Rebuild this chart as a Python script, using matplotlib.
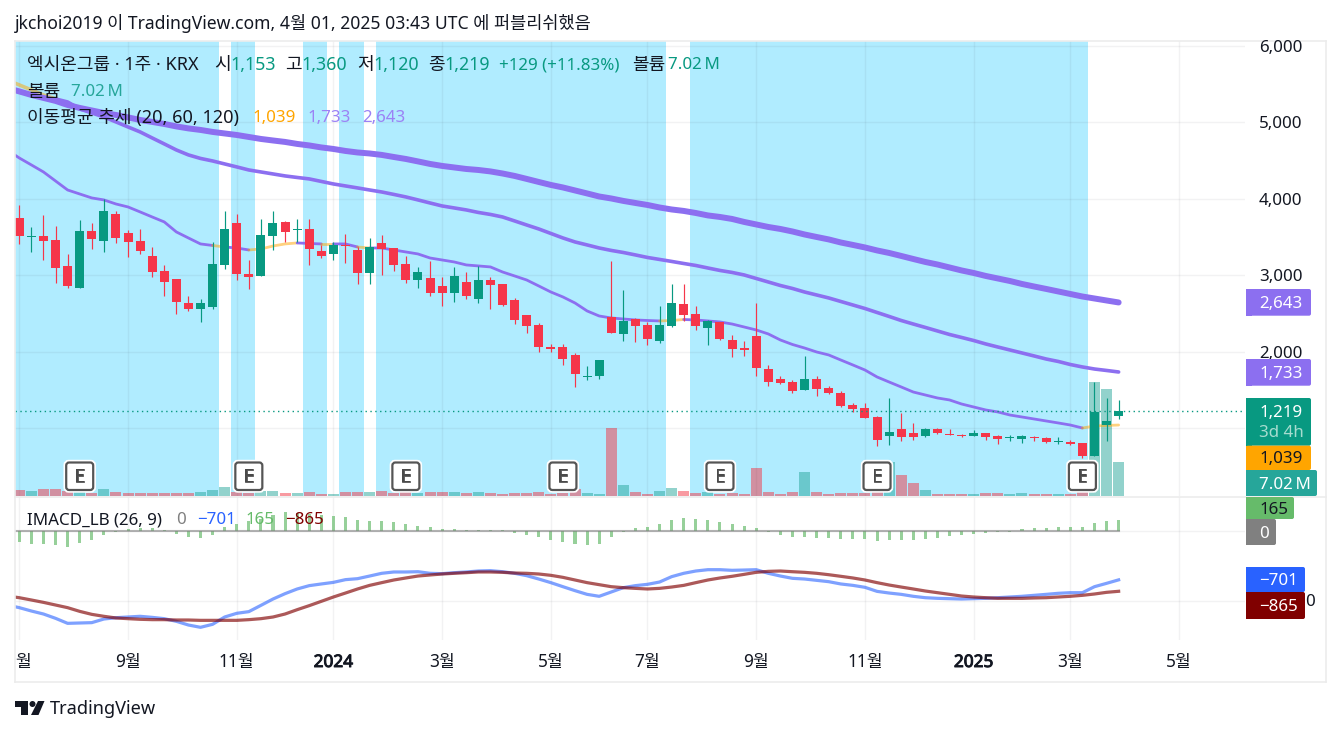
import numpy as np
import matplotlib
matplotlib.use("Agg")
import matplotlib.pyplot as plt
import matplotlib.patheffects as pe
from matplotlib.patches import FancyBboxPatch, Rectangle, Polygon, Circle

plt.rcParams["font.family"] = ["Noto Sans", "Noto Sans CJK KR"]

# weekly candles
opens = [3749, 3500, 3513, 3461, 3120, 2832, 3578, 3447, 3801, 3552, 3447, 3251, 3055, 2950, 2636, 2557, 2584, 3133, 3683, 3016,
         2989, 3513, 3696, 3591, 3605, 3317, 3277, 3395, 3330, 3029, 3421, 3356, 3146, 2937, 2964, 2859, 2767, 2911, 2689, 2937,
         2885, 2676, 2479, 2348, 2060, 2060, 1956, 1668, 1681, 2453, 2231, 2427, 2348, 2139, 2335, 2623, 2492, 2309, 2388, 2152,
         2047, 2204, 1773, 1642, 1602, 1498, 1642, 1524, 1458, 1301, 1262, 1144, 895, 987, 935, 895, 987, 917, 909, 895,
         935, 895, 869, 856, 882, 869, 817, 817, 804, 634, 1039, 1153]
highs = [3919, 3631, 3788, 3644, 3277, 3722, 3683, 3997, 3840, 3591, 3605, 3369, 3133, 2950, 2728, 2688, 3434, 3840, 3801, 3199,
         3735, 3840, 3709, 3735, 3735, 3395, 3434, 3539, 3369, 3487, 3526, 3356, 3251, 3107, 3186, 2977, 3108, 3042, 3121, 2977,
         2885, 2702, 2479, 2375, 2100, 2100, 1982, 1812, 1890, 3186, 2807, 2440, 2388, 2597, 2885, 2885, 2597, 2414, 2388, 2218,
         2139, 2636, 1825, 1681, 1628, 1943, 1681, 1550, 1484, 1327, 1327, 1157, 1393, 1197, 1066, 1000, 1000, 987, 922, 974,
         935, 909, 909, 909, 895, 882, 882, 843, 804, 1602, 1393, 1360]
lows = [3408, 3303, 3199, 2898, 2832, 2832, 3343, 3303, 3421, 3238, 3277, 2976, 2728, 2492, 2531, 2387, 2557, 3081, 2937, 2819,
        2989, 3330, 3434, 3434, 3133, 3225, 3199, 3160, 2885, 2885, 3002, 3055, 2898, 2832, 2728, 2597, 2649, 2689, 2636, 2558,
        2597, 2362, 2244, 1995, 1995, 1825, 1537, 1629, 1642, 2244, 2139, 2126, 2087, 2113, 2322, 2401, 2283, 2087, 2152, 1930,
        1943, 1681, 1550, 1576, 1458, 1498, 1419, 1445, 1275, 1210, 1131, 765, 778, 830, 843, 882, 922, 909, 882, 895,
        843, 791, 830, 804, 830, 804, 791, 778, 608, 634, 830, 1120]
closes = [3513, 3513, 3447, 3094, 2858, 3578, 3474, 3840, 3487, 3434, 3317, 3042, 2911, 2649, 2557, 2636, 3146, 3605, 3016, 2976,
          3526, 3683, 3565, 3605, 3343, 3251, 3395, 3382, 3029, 3369, 3343, 3133, 2937, 3042, 2767, 2767, 2990, 2728, 2937, 2872,
          2610, 2414, 2335, 2060, 2034, 1903, 1707, 1681, 1890, 2244, 2401, 2335, 2165, 2348, 2636, 2479, 2335, 2401, 2165, 2034,
          2021, 1786, 1602, 1589, 1484, 1642, 1511, 1458, 1288, 1249, 1131, 843, 948, 882, 882, 987, 935, 909, 895, 935,
          882, 856, 878, 895, 869, 817, 830, 791, 634, 1210, 1092, 1219]
# volume in millions
volumes = [1.24, 1.03, 1.45, 1.45, 1.03, 0.76, 0.68, 1.45, 0.83, 0.62, 0.62, 0.62, 0.62, 0.62, 0.62, 0.83, 1.24, 1.86, 0.83, 0.62,
           1.03, 1.03, 0.62, 0.62, 0.83, 0.35, 0.35, 0.83, 0.83, 0.83, 1.03, 0.62, 0.76, 0.62, 0.83, 0.83, 0.83, 0.62, 0.83, 0.62,
           0.41, 0.62, 0.62, 0.83, 0.41, 0.62, 1.45, 0.62, 0.41, 14.04, 2.27, 0.83, 0.41, 1.03, 1.65, 1.03, 0.62, 0.83, 0.41, 0.62,
           0.41, 5.78, 0.83, 0.41, 0.83, 4.96, 0.83, 0.41, 0.62, 0.62, 0.62, 0.83, 7.02, 4.34, 2.68, 1.24, 0.41, 0.41, 0.41, 0.41,
           0.62, 0.62, 0.41, 0.62, 0.41, 0.41, 0.41, 0.41, 0.83, 23.5, 22.1, 7.02]

# moving averages start one week before the first whole candle
ma20 = [4639, 4534, 4443, 4351, 4233, 4115, 4063, 4011, 3985, 3932, 3893, 3828, 3762, 3697, 3566, 3487, 3409, 3389, 3369, 3356,
        3330, 3343, 3382, 3409, 3422, 3415, 3409, 3409, 3409, 3369, 3356, 3356, 3330, 3304, 3278, 3225, 3199, 3173, 3134, 3121,
        3108, 3042, 2990, 2937, 2859, 2780, 2715, 2636, 2532, 2466, 2440, 2427, 2414, 2407, 2401, 2407, 2420, 2414, 2401, 2388,
        2361, 2322, 2283, 2231, 2152, 2093, 2047, 1995, 1956, 1890, 1825, 1759, 1668, 1602, 1537, 1471, 1432, 1393, 1367, 1314,
        1275, 1236, 1210, 1170, 1144, 1118, 1092, 1066, 1039, 1000, 1026, 1033, 1039]
ma60 = [5555, 5490, 5425, 5359, 5307, 5267, 5176, 5123, 5071, 5006, 4940, 4875, 4796, 4718, 4639, 4574, 4528, 4495, 4456, 4417,
        4377, 4351, 4325, 4299, 4279, 4260, 4227, 4194, 4168, 4142, 4115, 4089, 4057, 4024, 3985, 3945, 3906, 3880, 3854, 3821,
        3795, 3762, 3710, 3657, 3605, 3546, 3487, 3435, 3396, 3356, 3324, 3297, 3265, 3232, 3206, 3180, 3153, 3127, 3094, 3062,
        3036, 3003, 2957, 2911, 2865, 2826, 2780, 2741, 2702, 2656, 2610, 2564, 2512, 2460, 2407, 2361, 2316, 2270, 2224, 2185,
        2145, 2100, 2060, 2021, 1982, 1943, 1903, 1871, 1831, 1799, 1772, 1753, 1733]
ma120 = [5450, 5405, 5359, 5320, 5281, 5228, 5189, 5156, 5123, 5097, 5065, 5032, 5006, 4979, 4947, 4921, 4901, 4875, 4855, 4835,
         4809, 4783, 4763, 4744, 4718, 4698, 4672, 4652, 4626, 4606, 4593, 4574, 4547, 4521, 4489, 4456, 4430, 4410, 4390, 4377,
         4358, 4331, 4299, 4260, 4220, 4181, 4148, 4109, 4070, 4030, 4004, 3972, 3945, 3919, 3886, 3860, 3841, 3814, 3782, 3762,
         3736, 3697, 3664, 3631, 3605, 3572, 3533, 3500, 3468, 3428, 3396, 3363, 3324, 3291, 3252, 3212, 3173, 3140, 3101, 3062,
         3029, 2990, 2957, 2924, 2885, 2852, 2820, 2787, 2754, 2721, 2695, 2669, 2643]

# IMACD_LB pane
hist = [-155, -183, -183, -197, -226, -169, -127, -56, -14, 28, 42, 42, 14, -42, -85, -99, -56, 56, 99, 141,
        169, 226, 268, 254, 240, 226, 212, 197, 155, 141, 141, 127, 99, 70, 56, 28, 28, 14, 14, 14,
        14, -28, -56, -85, -127, -155, -183, -197, -183, -85, -14, 42, 56, 99, 155, 183, 169, 155, 127, 99,
        70, 42, -14, -56, -85, -85, -99, -99, -113, -113, -113, -141, -127, -127, -127, -113, -99, -70, -56, -42,
        -28, -14, -14, 28, 42, 42, 56, 56, 56, 113, 141, 165]
macd_line = [-1062, -1100, -1148, -1191, -1253, -1325, -1320, -1315, -1263, -1244, -1234, -1224, -1239, -1258, -1296, -1349, -1382, -1339, -1234, -1181,
             -1157, -1067, -976, -899, -832, -784, -760, -737, -698, -684, -646, -607, -588, -588, -584, -607, -612, -598, -588, -574,
             -569, -584, -607, -641, -689, -741, -799, -856, -909, -937, -875, -813, -784, -765, -732, -655, -607, -574, -555, -555,
             -564, -560, -555, -607, -646, -679, -689, -708, -727, -760, -780, -808, -866, -890, -909, -937, -957, -966, -971, -976,
             -971, -966, -957, -947, -937, -923, -909, -894, -885, -885, -799, -751, -701]
signal_line = [-933, -957, -990, -1024, -1062, -1100, -1153, -1196, -1224, -1248, -1258, -1267, -1272, -1272, -1277, -1277, -1282, -1282, -1282, -1282,
               -1272, -1258, -1234, -1191, -1129, -1071, -1009, -947, -890, -832, -780, -741, -703, -674, -646, -631, -617, -607, -598, -588,
               -588, -593, -603, -607, -617, -636, -665, -703, -741, -770, -799, -813, -823, -832, -823, -804, -780, -741, -703, -674,
               -650, -622, -593, -579, -574, -584, -593, -607, -627, -650, -674, -703, -741, -775, -804, -832, -861, -885, -909, -933,
               -947, -957, -966, -966, -966, -961, -957, -947, -937, -923, -904, -880, -865]

# weeks shaded as downtrend, earnings flags
cyan_spans = [(-1, 16), (18, 19), (24, 25), (27, 28), (30, 53), (56, 88)]
earnings_idx = [5, 19, 32, 45, 58, 71, 88]

month_ticks = [0, 9, 18, 26, 35, 44, 52, 61, 70, 79, 87, 96]
month_labels = ["7월", "9월", "11월", "2024", "3월", "5월", "7월", "9월", "11월", "2025", "3월", "5월"]
price_ticks = [1000, 2000, 3000, 4000, 5000, 6000]
macd_ticks = [0, -1000]

UP = "#089981"
DOWN = "#F5364A"
VOL_UP = "#26A69A"
VOL_DOWN = "#F23645"
PURPLE = "#8C6FF0"
ORANGE = "#FFA500"
CYAN = "#B0ECFF"
LINE = "#ECECEC"
TEXT = "#131722"
FS = 12.2
FS_KR = 13.0

W, H = 1341, 735
fig = plt.figure(figsize=(W / 100, H / 100), dpi=100, facecolor="white")


def axes_px(left, top, right, bottom, **kw):
    return fig.add_axes([left / W, 1 - bottom / H, (right - left) / W, (bottom - top) / H], **kw)


XLIM = (-0.356, 101.46)
ax_vol = axes_px(15, 41, 1245, 496, zorder=1)
ax = axes_px(15, 41, 1245, 496, zorder=2)
ax_macd = axes_px(15, 497, 1245, 640, zorder=2)
ov = axes_px(0, 0, W, H, zorder=5)
ov.set_xlim(0, W)
ov.set_ylim(H, 0)
ov.axis("off")

for a in (ax_vol, ax, ax_macd):
    a.set_xlim(*XLIM)
    a.set_xticks([])
    a.set_yticks([])
    for s in a.spines.values():
        s.set_visible(False)
ax.patch.set_alpha(0)
ax_macd.patch.set_alpha(0)

ax.set_ylim(110, 6065)
ax_vol.set_ylim(0, 93.95)
ax_macd.set_ylim(-1564, 488)

x = np.arange(len(closes))
o = np.array(opens, dtype=float)
c = np.array(closes, dtype=float)
rising = c >= o

# background and volume
for s, e in cyan_spans:
    ax_vol.axvspan(s - 0.5, e + 0.5, color=CYAN, lw=0, zorder=0)
ax_vol.bar(x, volumes, width=0.91, color=[VOL_UP if r else VOL_DOWN for r in rising], alpha=0.5, lw=0, zorder=2)

# grid
for a, ticks in ((ax, price_ticks), (ax_macd, macd_ticks)):
    for v in ticks:
        a.axhline(v, color="#2A2E39", alpha=0.06, lw=1, zorder=1)
    for t in month_ticks:
        a.axvline(t, color="#2A2E39", alpha=0.06, lw=1, zorder=1)


def draw_runs(axis, xs, ys, flags, lw):
    # flags[i] True = purple for the segment that ends at point i
    start = 0
    for i in range(1, len(xs) + 1):
        if i == len(xs) or flags[i] != flags[max(start + 1, 1)]:
            on = flags[max(start + 1, 1)]
            axis.plot(xs[start:i], ys[start:i], color=PURPLE if on else ORANGE, alpha=1 if on else 0.5,
                      lw=lw, solid_capstyle="round", solid_joinstyle="round", zorder=2)
            start = i - 1


ma_x = np.arange(-1, len(closes))
trend = np.zeros(len(ma_x), dtype=bool)
for s, e in cyan_spans:
    trend[s + 1:e + 2] = True
draw_runs(ax, ma_x, np.array(ma60, dtype=float), ma_x > 3, 2.6)
draw_runs(ax, ma_x, np.array(ma20, dtype=float), trend, 2.0)
ax.plot(ma_x, ma120, color=PURPLE, lw=4.3, solid_capstyle="round", zorder=2)

# candles
ccolors = [UP if r else DOWN for r in rising]
ax.vlines(x, lows, highs, colors=ccolors, lw=0.85, zorder=3)
ax.bar(x, np.abs(c - o), bottom=np.minimum(o, c), width=0.745, color=ccolors, lw=0, zorder=3)
ax.axhline(closes[-1], color=UP, ls=(0, (1, 2.5)), lw=1.0, zorder=3)

# IMACD_LB
ax_macd.bar(x, hist, width=0.25, color="#66BB6A", alpha=0.68, lw=0, zorder=2)
ax_macd.plot([XLIM[0], x[-1]], [0, 0], color="#808080", alpha=0.6, lw=1.5, zorder=2)
ax_macd.plot(ma_x, macd_line, color="#2962FF", alpha=0.6, lw=2.3, zorder=3)
ax_macd.plot(ma_x, signal_line, color="#800000", alpha=0.65, lw=2.3, zorder=3)


def px_x(i):
    return ax.transData.transform((i, 0))[0]


def px_y(axis, v):
    return H - axis.transData.transform((0, v))[1]


# frame lines
ov.plot([15, 1326], [41, 41], color=LINE, lw=1.2)
ov.plot([15, 1326], [682, 682], color=LINE, lw=1.2)
ov.plot([15, 15], [41, 682], color=LINE, lw=1.2)
ov.plot([1326, 1326], [41, 682], color=LINE, lw=1.2)
ov.plot([15, 1326], [496.5, 496.5], color=LINE, lw=1.2)

# earnings markers
for i in earnings_idx:
    cx = px_x(i)
    ov.add_patch(FancyBboxPatch((cx - 14, 462), 28, 28.5, boxstyle="round,pad=0,rounding_size=3", fc="white", ec="white", lw=3.2, zorder=6))
    ov.add_patch(FancyBboxPatch((cx - 13.5, 462.5), 27, 27.5, boxstyle="round,pad=0,rounding_size=3", fc="white", ec="#555555", lw=1.6, zorder=7))
    ov.text(cx, 477, "E", ha="center", va="center", fontsize=13.5, color="#4A4A4A", zorder=8,
            path_effects=[pe.withStroke(linewidth=0.5, foreground="#4A4A4A")])

# axis labels; the 1,000 and 0 labels sit under tags, only the tail of -1,000 shows
for v in price_ticks[1:]:
    ov.text(1259, px_y(ax, v) + 2, f"{v:,}", ha="left", va="center", fontsize=FS, color=TEXT, zorder=3)
ov.text(1305, px_y(ax_macd, macd_ticks[1]) + 1.5, "0", ha="left", va="center", fontsize=FS, color=TEXT, zorder=3)

clip_rect = Rectangle((16.5, 640), 1311, 42, transform=ov.transData)
for t, lab in zip(month_ticks, month_labels):
    bold = lab.startswith("20")
    txt = ov.text(px_x(t), 662, lab, ha="center", va="center", fontsize=12.4,
                  color=TEXT, zorder=3)
    if bold:
        txt.set_path_effects([pe.withStroke(linewidth=0.7, foreground=TEXT)])
    txt.set_clip_path(clip_rect)
    txt.set_clip_on(True)


def tag(top, bottom, right, fill, label, label_color, label_y=None):
    ov.add_patch(FancyBboxPatch((1246, top), right - 1246, bottom - top, boxstyle="round,pad=0,rounding_size=2",
                                fc=fill, ec="none", zorder=4))
    ov.add_patch(Rectangle((1246, top), 6, bottom - top, fc=fill, ec="none", zorder=4))
    ov.text(1259, label_y if label_y else (top + bottom) / 2 + 1.5, label, ha="left", va="center",
            fontsize=FS, color=label_color, zorder=5)


tag(289, 315.7, 1311, PURPLE, f"{ma120[-1]:,}", "white")
tag(359, 385.7, 1311, PURPLE, f"{ma60[-1]:,}", "white")
tag(398, 445.7, 1311, UP, f"{closes[-1]:,}", "white", label_y=412.5)
ov.text(1259, 433, "3d 4h", ha="left", va="center", fontsize=FS, color="#A6DCCF", zorder=5)
tag(445.7, 470, 1311, ORANGE, f"{ma20[-1]:,}", TEXT)
tag(470, 496, 1317, VOL_UP, "7.02\u2009M", "white")
tag(497, 519, 1294, "#66BB6A", f"{hist[-1]}", TEXT)
tag(519, 545, 1276, "#808080", "0", "white")
tag(567, 592, 1305, "#2962FF", f"−{-macd_line[-1]}", "white")
tag(592, 619, 1305, "#800000", f"−{-signal_line[-1]}", "white")

# legend rows
YL1, YL2, YL3, YL4 = 65, 92, 118, 520.5
for px, txt, col, fs in [
    (27, "엑시온그룹 · 1주 · KRX", TEXT, FS_KR), (214, "시", TEXT, FS_KR), (230, f"{opens[-1]:,}", UP, 12.8),
    (285, "고", TEXT, FS_KR), (301, f"{highs[-1]:,}", UP, 12.8), (357, "저", TEXT, FS_KR), (373, f"{lows[-1]:,}", UP, 12.8),
    (428, "종", TEXT, FS_KR), (444, f"{closes[-1]:,}", UP, 12.8), (499, "+129 (+11.83%)", UP, FS),
    (632, "볼륨", TEXT, FS_KR), (668, "7.02\u2009M", UP, FS),
]:
    ov.text(px, YL1, txt, ha="left", va="center", fontsize=fs, color=col, zorder=9)
ov.text(27, YL2, "볼륨", ha="left", va="center", fontsize=FS_KR, color=TEXT, zorder=9)
ov.text(71, YL2, "7.02\u2009M", ha="left", va="center", fontsize=FS, color=VOL_UP, zorder=9)
ov.text(27, YL3, "이동평균 추세 (20, 60, 120)", ha="left", va="center", fontsize=FS_KR, color=TEXT, zorder=9)
ov.text(252, YL3, f"{ma20[-1]:,}", ha="left", va="center", fontsize=FS, color=ORANGE, zorder=9)
ov.text(307, YL3, f"{ma60[-1]:,}", ha="left", va="center", fontsize=FS, color="#9B82F5", zorder=9)
ov.text(362, YL3, f"{ma120[-1]:,}", ha="left", va="center", fontsize=FS, color="#9B82F5", zorder=9)
ov.text(27, YL4, "IMACD_LB (26, 9)", ha="left", va="center", fontsize=FS, color=TEXT, zorder=9)
ov.text(176, YL4, "0", ha="left", va="center", fontsize=FS, color="#808080", zorder=9)
ov.text(197, YL4, "−701", ha="left", va="center", fontsize=FS, color="#2962FF", zorder=9)
ov.text(245, YL4, "165", ha="left", va="center", fontsize=FS, color="#66BB6A", zorder=9)
ov.text(285, YL4, "−865", ha="left", va="center", fontsize=FS, color="#800000", zorder=9)

# header and footer
ov.text(15, 23.5, "jkchoi2019 이 TradingView.com, 4월 01, 2025 03:43 UTC 에 퍼블리쉬했음", ha="left", va="center",
        fontsize=12.65, color=TEXT)
ov.add_patch(Polygon([(15, 701), (28, 701), (28, 715), (21, 715), (21, 706.5), (15, 706.5)], fc=TEXT, ec="none"))
ov.add_patch(Circle((32.5, 704), 3, fc=TEXT, ec="none"))
ov.add_patch(Polygon([(38, 701), (44.5, 701), (38.5, 715), (31, 715)], fc=TEXT, ec="none"))
ov.text(50, 709.5, "TradingView", ha="left", va="center", fontsize=13.1, color=TEXT)

fig.savefig("out.png", dpi=100, facecolor="white")
